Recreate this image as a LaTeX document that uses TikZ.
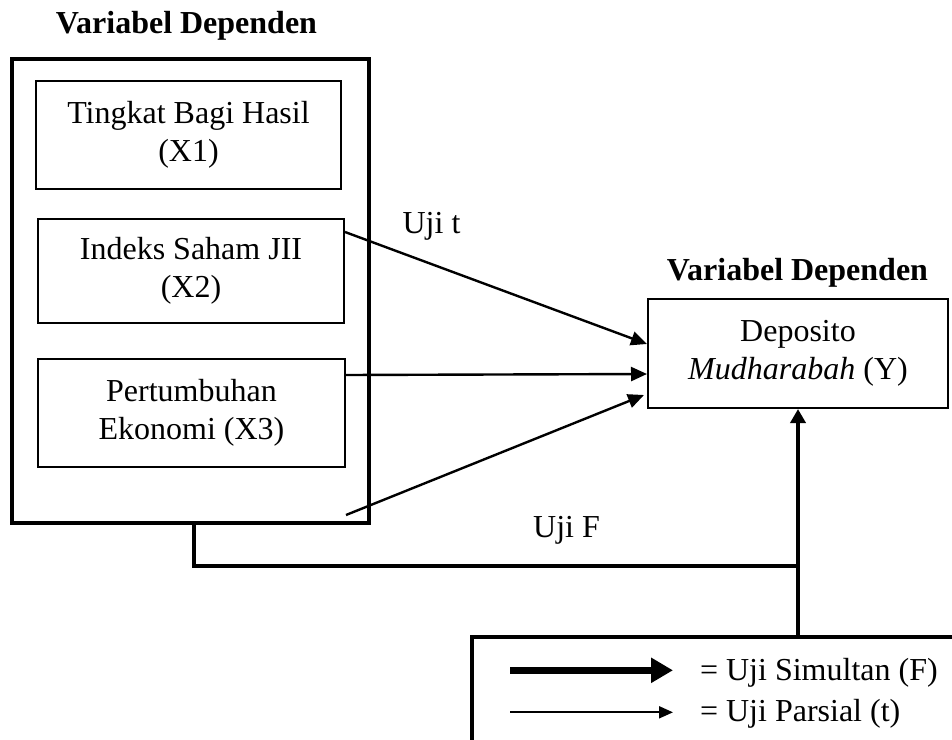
\documentclass[tikz,border=0pt]{standalone}
\usepackage{fontspec}
\setmainfont{Liberation Serif}
\usetikzlibrary{arrows.meta,calc}
\begin{document}
\begin{tikzpicture}[x=0.5pt,y=-0.5pt,
    every node/.style={font=\fontsize{16}{19}\selectfont},
    title/.style={font=\fontsize{16}{19}\selectfont\bfseries},
    varbox/.style={draw,line width=1pt,align=center,inner sep=0pt},
    bigbox/.style={draw,line width=2pt,inner sep=0pt},
    tarrow/.style={line width=1.2pt,-{Triangle[length=8pt,width=7pt]}},
    fline/.style={line width=2pt},
    farrow/.style={line width=2pt,-{Triangle[length=7pt,width=7.5pt]}}]
      \useasboundingbox (0,0) rectangle (952,739);
      \clip (0,0) rectangle (952,739);
      % independent side
      \node[title,anchor=base] (tind) at (186.5,33) {Variabel Dependen};
      \node[bigbox,minimum width=178.5pt,minimum height=232pt] (indep) at (190.5,291) {};
      \node[varbox,minimum width=152.5pt,minimum height=54pt] (x1) at (188.5,135) {Tingkat Bagi Hasil\\(X1)};
      \node[varbox,minimum width=153pt,minimum height=52pt] (x2) at (191,271) {Indeks Saham JII\\(X2)};
      \node[varbox,minimum width=153.5pt,minimum height=54pt] (x3) at (191.5,413) {Pertumbuhan\\Ekonomi (X3)};
      % dependent side
      \node[title,anchor=base] (tdep) at (797.5,280) {Variabel Dependen};
      \node[varbox,minimum width=150pt,minimum height=54.5pt] (dep) at (798,353.5) {Deposito\\\textit{Mudharabah} (Y)};
      \node[anchor=base] (ut) at (431.5,233) {Uji t};
      \node[anchor=base] (uf) at (566.5,537) {Uji F};
      % partial tests
      \coordinate (s1) at (x2.east |- 0,232);
      \coordinate (s2) at (x3.east |- 0,375);
      \coordinate (s3) at (x3.east |- 0,515);
      \draw [tarrow] (s1) -- ($(dep.west)+(0,-9.5)$);
      \draw [tarrow] (s2) -- ($(dep.west)+(0,20.5)$);
      \draw [tarrow] (s3) -- ($(dep.west)+(-3,41.5)$);
      % simultaneous test
      \node[bigbox,minimum width=259pt,minimum height=76.5pt] (leg) at (731,713.5) {};
      \coordinate (fj) at (dep.south |- 0,566);
      \draw [fline] (indep.south -| 194,0) -- (194,566) -- (fj);
      \draw [farrow] (leg.north -| dep.south) -- (dep.south);
      % legend
      \node[anchor=base west] (lf) at (693,680) {= Uji Simultan (F)};
      \node[anchor=base west] (lt) at (693,721) {= Uji Parsial (t)};
      \draw [line width=3.5pt,-{Triangle[length=11pt,width=12pt]}] ($(lf.west)+(-183,-2)$) -- ($(lf.west)+(-20,-2)$);
      \draw [line width=1pt,-{Triangle[length=7pt,width=6pt]}] ($(lt.west)+(-183,-1)$) -- ($(lt.west)+(-20,-1)$);
\end{tikzpicture}
\end{document}
